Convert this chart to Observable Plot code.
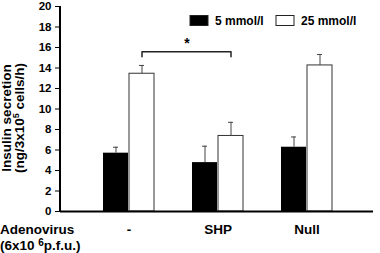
<!DOCTYPE html>
<html><head><meta charset="utf-8">
<script src="https://cdn.jsdelivr.net/npm/d3@7"></script>
<script src="https://cdn.jsdelivr.net/npm/@observablehq/plot@0.6"></script>
<style>body{margin:0;background:#fff}</style>
</head><body><div id="chart"></div>
<script>
const groups = ["-", "SHP", "Null"];
const seriesNames = ["5 mmol/l", "25 mmol/l"];
const mean5 = [5.69, 4.77, 6.27];
const err5 = [0.58, 1.6, 1.0];
const mean25 = [13.44, 7.37, 14.25];
const err25 = [0.81, 1.33, 1.07];
const yTicks = [0, 2, 4, 6, 8, 10, 12, 14, 16, 18, 20];
const bracketGroups = ["-", "SHP"];
const bracketY = 15.58;
const bracketLow = 15.1;

const d5 = groups.map((g, i) => ({g, v: mean5[i], top: mean5[i] + err5[i]}));
const d25 = groups.map((g, i) => ({g, v: mean25[i], top: mean25[i] + err25[i]}));
const bracket = [
  {g: bracketGroups[0], y: bracketLow},
  {g: bracketGroups[0], y: bracketY},
  {g: bracketGroups[1], y: bracketY},
  {g: bracketGroups[1], y: bracketLow}
];

const font = "'Liberation Sans', Arial, sans-serif";
const plot = Plot.plot({
  width: 380, height: 253,
  marginLeft: 60, marginRight: 7, marginTop: 6, marginBottom: 42,
  style: {fontFamily: font, fontWeight: "bold", fontSize: "11.5px", background: "white", color: "black"},
  x: {domain: groups, paddingInner: 0.422, paddingOuter: 0.45, align: 0.52, axis: null},
  y: {domain: [0, 20], ticks: yTicks, tickSize: 5, tickPadding: 4, label: null},
  marks: [
    Plot.barY(d5, {x: "g", y: "v", fill: "black", insetRight: 26}),
    Plot.barY(d25, {x: "g", y: "v", fill: "white", stroke: "#333", strokeWidth: 1, insetLeft: 26}),
    Plot.ruleX(d5, {x: "g", y1: "v", y2: "top", dx: -13, stroke: "#444"}),
    Plot.tickY(d5, {x: "g", y: "top", dx: -13, insetLeft: 23, insetRight: 23, stroke: "#444"}),
    Plot.ruleX(d25, {x: "g", y1: "v", y2: "top", dx: 13, stroke: "#444"}),
    Plot.tickY(d25, {x: "g", y: "top", dx: 13, insetLeft: 23, insetRight: 23, stroke: "#444"}),
    Plot.line(bracket, {x: "g", y: "y", dx: 13, stroke: "#222", strokeWidth: 1.5}),
    Plot.text([bracketGroups[0]], {x: d => d, y: 16.0, text: () => "*", dx: 58, fontSize: 14, lineAnchor: "bottom"}),
    Plot.text(groups, {x: d => d, y: 0, text: d => d, dy: 13, lineAnchor: "top", fontSize: 13.5}),
    Plot.ruleY([0], {strokeWidth: 2})
  ]
});
document.getElementById("chart").appendChild(plot);

const svg = d3.select(plot);
const ys = plot.scale("y");
// y axis line
svg.append("line").attr("x1", 60).attr("x2", 60)
  .attr("y1", ys.apply(0) + 1).attr("y2", ys.apply(20))
  .attr("stroke", "black").attr("stroke-width", 2);
// y label
const yl = svg.append("text").attr("transform", "translate(10.5,118) rotate(-90)")
  .attr("text-anchor", "middle").attr("font-family", font).attr("font-weight", "bold").attr("font-size", 13.5);
yl.append("tspan").attr("x", 0).attr("y", 0).text("Insulin secretion");
const l2 = yl.append("tspan").attr("x", 0).attr("y", 13.5);
l2.append("tspan").text("(ng/3x10");
l2.append("tspan").attr("font-size", 9).attr("dy", -5).text("5");
l2.append("tspan").attr("dy", 5).text(" cells/h)");
// x label
const xl1 = svg.append("text").attr("text-anchor", "start").attr("font-family", font).attr("font-weight", "bold").attr("font-size", 13.5)
  .attr("x", 0).attr("y", 234).text("Adenovirus");
const xl2 = svg.append("text").attr("text-anchor", "start").attr("font-family", font).attr("font-weight", "bold").attr("font-size", 13.5)
  .attr("x", 0).attr("y", 250);
xl2.append("tspan").text("(6x10 ");
xl2.append("tspan").attr("font-size", 10).attr("dy", -4).text("6");
xl2.append("tspan").attr("dy", 4).text("p.f.u.)");
// legend
const fills = ["black", "white"];
const lx = [190, 276];
seriesNames.forEach((s, i) => {
  svg.append("rect").attr("x", lx[i]).attr("y", 15.5).attr("width", 18).attr("height", 10)
    .attr("fill", fills[i]).attr("stroke", "#222").attr("stroke-width", 1);
  svg.append("text").attr("text-anchor", "start").attr("x", lx[i] + 25).attr("y", 25).attr("font-family", font)
    .attr("font-weight", "bold").attr("font-size", 12).text(s);
});
</script></body></html>
